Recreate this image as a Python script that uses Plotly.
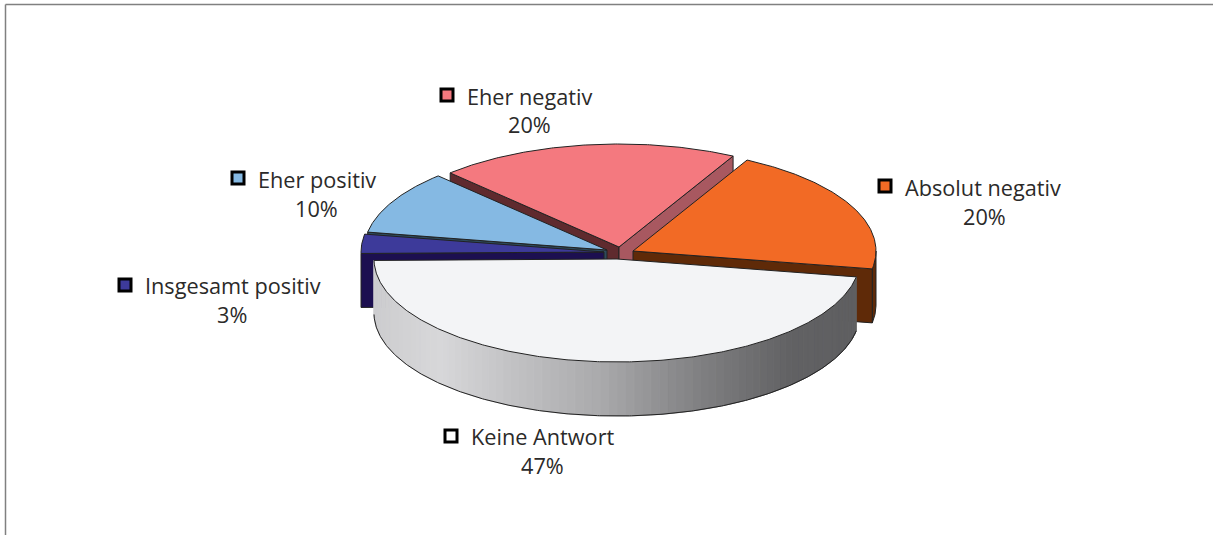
import math
import plotly.graph_objects as go

CATEGORIES = ["Keine Antwort", "Insgesamt positiv", "Eher positiv", "Eher negativ", "Absolut negativ"]
VALUES = [47, 3, 10, 20, 20]

TOP_COLORS = ["#f3f4f6", "#3d3a9a", "#85b9e3", "#f4797f", "#f26a25"]
FACE_END = ["#000000", "#2d4a5c", "#1c0f50", "#a85860", "#5f2a08"]
FACE_START = [None, "#1c0f50", "#2d4a5c", "#5f2a2e", None]
APEX = [(617, 259), (604, 252), (607, 250), (619, 247), (633, 251)]
LABEL_POS = [(542, 436, 465, 451, 436), (232, 285, 314, 125, 285), (316, 179, 208, 238, 178),
             (529, 96, 124, 447, 95), (984, 187, 216, 885, 186)]
RX, RY, DEPTH = 243, 103, 54
START_DEG = 10
FONT = "Open Sans"
FONT_SIZE = 21.7
TEXT_COLOR = "#2b2a29"
OUTLINE = "#222222"

fig = go.Figure()


def poly(xs, ys, fill, line=OUTLINE, width=1):
    fig.add_trace(go.Scatter(x=xs, y=ys, mode="lines", fill="toself", fillcolor=fill,
                             line=dict(color=line, width=width), hoverinfo="skip", showlegend=False))


def arc(c, a0, a1, dy=0):
    n = max(2, int(abs(a1 - a0)) * 2)
    pts = [a0 + (a1 - a0) * i / n for i in range(n + 1)]
    return ([c[0] + RX * math.cos(math.radians(a)) for a in pts],
            [c[1] + RY * math.sin(math.radians(a)) + dy for a in pts])


def grey_at(x):
    stops = [(374, 205), (440, 216), (520, 192), (600, 170), (700, 128), (790, 98), (858, 95)]
    for (x0, g0), (x1, g1) in zip(stops, stops[1:]):
        if x <= x1:
            g = g0 + (g1 - g0) * (x - x0) / (x1 - x0)
            return f"rgb({int(g)},{int(g)},{int(g + 2)})"
    return "rgb(95,95,97)"


# angular ranges from the values
angles = []
a = START_DEG
for v in VALUES:
    angles.append((a, a + v * 3.6))
    a += v * 3.6

for i in [3, 2, 1, 4, 0]:
    c = APEX[i]
    a0, a1 = angles[i]
    # cut faces
    if FACE_START[i]:
        px = c[0] + RX * math.cos(math.radians(a0))
        py = c[1] + RY * math.sin(math.radians(a0))
        poly([c[0], px, px, c[0], c[0]], [c[1], py, py + DEPTH, c[1] + DEPTH, c[1]], FACE_START[i])
    if i == 3:
        px = c[0] + RX * math.cos(math.radians(a1))
        py = c[1] + RY * math.sin(math.radians(a1))
        poly([c[0], px, px, c[0], c[0]], [c[1], py, py + DEPTH, c[1] + DEPTH, c[1]], FACE_END[i])
    # orange: outer wall for the part of the rim facing the viewer
    if i == 4:
        ax, ay = arc(c, 360, a1)
        bx, by = arc(c, a1, 360, DEPTH)
        poly(ax + bx + [ax[0]], ay + by + [ay[0]], FACE_END[4])
        px = c[0] + RX * math.cos(math.radians(a1 - 360))
        py = c[1] + RY * math.sin(math.radians(a1 - 360))
        poly([c[0], px, px, c[0], c[0]], [c[1], py, py + DEPTH, c[1] + DEPTH, c[1]], FACE_END[4])
    # white: shaded outer wall, one strip per step
    if i == 0:
        step = 2.0
        t = a0
        while t < a1:
            t2 = min(t + step, a1)
            ax, ay = arc(c, t, t2)
            bx, by = arc(c, t2, t, DEPTH)
            col = grey_at(c[0] + RX * math.cos(math.radians((t + t2) / 2)))
            poly(ax + bx + [ax[0]], ay + by + [ay[0]], col, line=col, width=1)
            t = t2
        bx, by = arc(c, a0, a1, DEPTH)
        fig.add_trace(go.Scatter(x=bx, y=by, mode="lines", line=dict(color=OUTLINE, width=1),
                                 hoverinfo="skip", showlegend=False))
    # top
    tx, ty = arc(c, a0, a1)
    poly([c[0]] + tx + [c[0]], [c[1]] + ty + [c[1]], TOP_COLORS[i])

# labels and keys
for name, v, col, (tx, y1, y2, kx, ky) in zip(CATEGORIES, VALUES, TOP_COLORS, LABEL_POS):
    fig.add_trace(go.Scatter(x=[kx], y=[ky], mode="markers", hoverinfo="skip", showlegend=False,
                             marker=dict(symbol="square", size=12, color=col if col != "#f3f4f6" else "#ffffff",
                                         line=dict(color="#000000", width=3))))
    fig.add_annotation(x=kx + 18, y=y1, text=name, showarrow=False, xanchor="left", yanchor="middle",
                       font=dict(family=FONT, size=FONT_SIZE, color=TEXT_COLOR))
    fig.add_annotation(x=tx, y=y2, text=f"{v}%", showarrow=False, xanchor="center", yanchor="middle",
                       font=dict(family=FONT, size=FONT_SIZE, color=TEXT_COLOR))

fig.add_shape(type="line", x0=5.5, x1=1213, y0=4.5, y1=4.5, line=dict(color="#808080", width=1.5))
fig.add_shape(type="line", x0=5.5, x1=5.5, y0=4.5, y1=535, line=dict(color="#808080", width=1.5))

fig.update_layout(width=1213, height=535, margin=dict(l=0, r=0, t=0, b=0),
                  paper_bgcolor="white", plot_bgcolor="white", showlegend=False,
                  xaxis=dict(range=[0, 1213], visible=False, fixedrange=True),
                  yaxis=dict(range=[535, 0], visible=False, fixedrange=True))
fig.write_html("out.html", config=dict(displayModeBar=False),
               post_script="document.body.style.margin='0';document.body.style.overflow='hidden';")
